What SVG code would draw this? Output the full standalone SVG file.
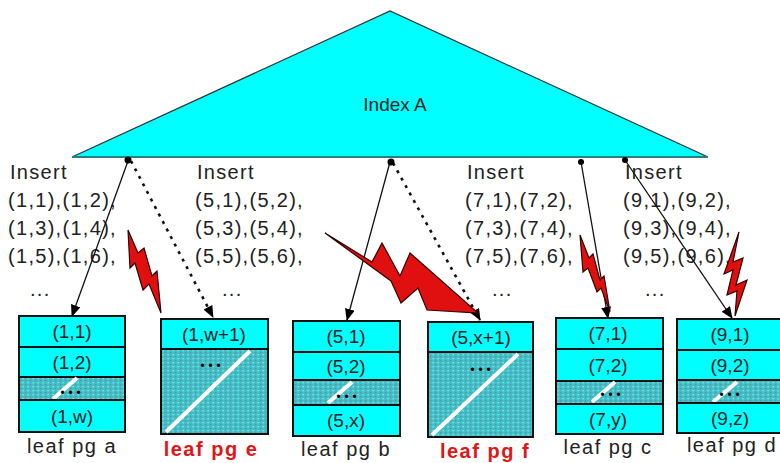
<svg xmlns="http://www.w3.org/2000/svg" width="780" height="463" viewBox="0 0 780 463">
<style>
.t{font-family:"Liberation Sans",Arial,sans-serif;fill:#222;}
.ins{font-size:20px;letter-spacing:1.3px;}
.row{font-size:19px;text-anchor:middle;}
.lbl{font-size:20px;letter-spacing:1.5px;text-anchor:middle;}
.red{fill:#e01515;font-weight:bold;}
.cell{fill:#00ffff;stroke:#111;stroke-width:2;}
.hatch{fill:url(#hp);stroke:#111;stroke-width:2;}
.slash{stroke:#fff;stroke-width:4;}
.dots{font-size:20px;font-weight:bold;fill:#000;text-anchor:middle;letter-spacing:3px;}
.solid{stroke:#111;stroke-width:1.3;fill:none;}
.dotted{stroke:#111;stroke-width:2.6;fill:none;stroke-dasharray:3 5.5;}
.bolt{fill:#e01010;stroke:#300;stroke-width:1.2;}
</style>
<defs>
<pattern id="hp" width="5" height="4" patternUnits="userSpaceOnUse">
<rect width="5" height="4" fill="#3fc0c8"/>
<rect x="0" y="0" width="1.3" height="1.3" fill="#6d8a8e"/>
<rect x="2.5" y="2" width="1.3" height="1.3" fill="#8fe8ee"/>
</pattern>
<marker id="ah" viewBox="0 0 12 10" refX="11" refY="5" markerWidth="12" markerHeight="10" markerUnits="userSpaceOnUse" orient="auto">
<path d="M0,0 L12,5 L0,10 Z" fill="#000"/>
</marker>
</defs>
<rect width="780" height="463" fill="#fff"/>

<g id="index-a">
<polygon points="72,157 390,11 708,157" fill="#00ffff" stroke="#333" stroke-width="1.2"/>
<line x1="72" y1="157" x2="708" y2="157" stroke="#2a7f80" stroke-width="2"/>
<text class="t" x="395" y="111" font-size="19" text-anchor="middle">Index A</text>
</g>

<g id="insert-a" class="t ins">
<text x="10" y="179">Insert</text>
<text x="8" y="207">(1,1),(1,2),</text>
<text x="8" y="235">(1,3),(1,4),</text>
<text x="8" y="263">(1,5),(1,6),</text>
<text x="30" y="296">...</text>
</g>
<g id="insert-b" class="t ins">
<text x="197" y="179">Insert</text>
<text x="195" y="207">(5,1),(5,2),</text>
<text x="195" y="235">(5,3),(5,4),</text>
<text x="195" y="263">(5,5),(5,6),</text>
<text x="222" y="296">...</text>
</g>
<g id="insert-c" class="t ins">
<text x="467" y="179">Insert</text>
<text x="465" y="207">(7,1),(7,2),</text>
<text x="465" y="235">(7,3),(7,4),</text>
<text x="465" y="263">(7,5),(7,6),</text>
<text x="492" y="296">...</text>
</g>
<g id="insert-d" class="t ins">
<text x="625" y="179">Insert</text>
<text x="623" y="207">(9,1),(9,2),</text>
<text x="623" y="235">(9,3),(9,4),</text>
<text x="623" y="263">(9,5),(9,6),</text>
<text x="645" y="296">...</text>
</g>

<g id="leaf-a">
<rect class="cell" x="19" y="316" width="106" height="31"/>
<rect class="cell" x="19" y="347" width="106" height="30"/>
<rect class="hatch" x="19" y="377" width="106" height="23"/>
<line class="slash" x1="53" y1="399" x2="77" y2="378"/>
<rect class="cell" x="19" y="400" width="106" height="32"/>
<text class="t row" x="72" y="338">(1,1)</text>
<text class="t row" x="72" y="369">(1,2)</text>
<text class="dots" x="72" y="394">...</text>
<text class="t row" x="72" y="423">(1,w)</text>
<text class="t lbl" x="72" y="453">leaf pg a</text>
</g>

<g id="leaf-e">
<rect class="cell" x="161" y="319" width="107" height="30"/>
<rect class="hatch" x="161" y="349" width="107" height="85"/>
<line class="slash" x1="166" y1="432" x2="250" y2="351"/>
<text class="t row" x="214" y="341">(1,w+1)</text>
<text class="dots" x="212" y="367">...</text>
<text class="t lbl red" x="211" y="456">leaf pg e</text>
</g>

<g id="leaf-b">
<rect class="cell" x="293" y="321" width="107" height="31"/>
<rect class="cell" x="293" y="352" width="107" height="28"/>
<rect class="hatch" x="293" y="380" width="107" height="25"/>
<line class="slash" x1="328" y1="403" x2="352" y2="382"/>
<rect class="cell" x="293" y="405" width="107" height="31"/>
<text class="t row" x="346" y="343">(5,1)</text>
<text class="t row" x="346" y="373">(5,2)</text>
<text class="dots" x="348" y="398">...</text>
<text class="t row" x="346" y="427">(5,x)</text>
<text class="t lbl" x="346" y="456">leaf pg b</text>
</g>

<g id="leaf-f">
<rect class="cell" x="428" y="322" width="105" height="30"/>
<rect class="hatch" x="428" y="352" width="105" height="85"/>
<line class="slash" x1="432" y1="435" x2="518" y2="354"/>
<text class="t row" x="481" y="344">(5,x+1)</text>
<text class="dots" x="482" y="371">...</text>
<text class="t lbl red" x="485" y="458">leaf pg f</text>
</g>

<g id="leaf-c">
<rect class="cell" x="556" y="318" width="107" height="31"/>
<rect class="cell" x="556" y="349" width="107" height="32"/>
<rect class="hatch" x="556" y="381" width="107" height="23"/>
<line class="slash" x1="592" y1="402" x2="615" y2="382"/>
<rect class="cell" x="556" y="404" width="107" height="30"/>
<text class="t row" x="608" y="340">(7,1)</text>
<text class="t row" x="608" y="372">(7,2)</text>
<text class="dots" x="612" y="396">...</text>
<text class="t row" x="608" y="426">(7,y)</text>
<text class="t lbl" x="608" y="454">leaf pg c</text>
</g>

<g id="leaf-d">
<rect class="cell" x="677" y="319" width="113" height="31"/>
<rect class="cell" x="677" y="350" width="113" height="30"/>
<rect class="hatch" x="677" y="380" width="113" height="23"/>
<line class="slash" x1="713" y1="402" x2="737" y2="382"/>
<rect class="cell" x="677" y="403" width="113" height="30"/>
<text class="t row" x="730" y="341">(9,1)</text>
<text class="t row" x="730" y="372">(9,2)</text>
<text class="dots" x="731" y="396">...</text>
<text class="t row" x="730" y="425">(9,z)</text>
<text class="t lbl" x="732" y="452">leaf pg d</text>
</g>

<g id="connectors">
<line class="solid" x1="128" y1="161" x2="72" y2="316" marker-end="url(#ah)"/>
<line class="dotted" x1="131" y1="161" x2="213" y2="317" marker-end="url(#ah)"/>
<line class="solid" x1="390" y1="162" x2="347" y2="320" marker-end="url(#ah)"/>
<line class="dotted" x1="393" y1="163" x2="480" y2="320" marker-end="url(#ah)"/>
<line class="solid" x1="581" y1="162" x2="608" y2="318" marker-end="url(#ah)"/>
<line class="solid" x1="625" y1="160" x2="732" y2="318" marker-end="url(#ah)"/>
<circle cx="128" cy="160" r="3.5" fill="#000"/>
<circle cx="391" cy="162" r="3.5" fill="#000"/>
<circle cx="581" cy="162" r="3" fill="#000"/>
<circle cx="625" cy="160" r="3" fill="#000"/>
</g>

<g id="bolts">
<path class="bolt" d="M128,230 L138,253 L144,248 L152,276 L157,271 L161,313 L149,284 L143,290 L135,263 L130,268 Z"/>
<path class="bolt" d="M325,233 L372,262 L382,243 L400,276 L410,253 L478,313 L427,310 L418,288 L401,303 L391,281 Z"/>
<path class="bolt" d="M580,235 L589,258 L593,254 L600,280 L604,276 L610,312 L601,288 L597,292 L588,268 L583,272 Z"/>
<path class="bolt" d="M739,232 L733,262 L743,258 L736,285 L747,280 L735,316 L737,291 L727,295 L733,270 L724,274 Z"/>
</g>
</svg>
